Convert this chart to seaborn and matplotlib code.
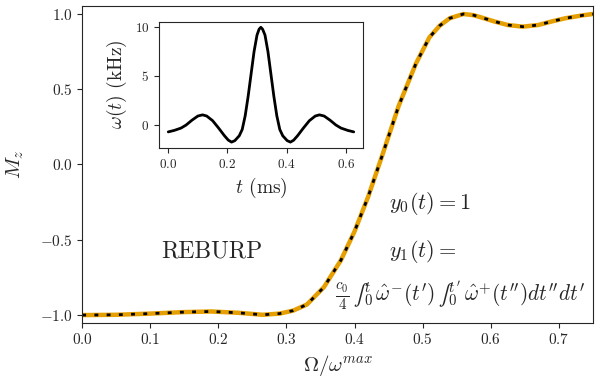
import numpy as np
import pandas as pd
import matplotlib.pyplot as plt
import seaborn as sns

# Main curve: longitudinal magnetisation vs normalised offset
omega_ratio = [0.00, 0.05, 0.10, 0.15, 0.19, 0.23, 0.265, 0.29, 0.31, 0.33,
               0.355, 0.38, 0.40, 0.42, 0.44, 0.465, 0.49, 0.51, 0.525, 0.54,
               0.56, 0.575, 0.59, 0.605, 0.625, 0.647, 0.67, 0.69, 0.71, 0.735, 0.75]
mz = [-1.000, -0.998, -0.990, -0.980, -0.976, -0.985, -0.998, -0.990, -0.970, -0.930,
      -0.815, -0.636, -0.445, -0.215, 0.050, 0.390, 0.667, 0.843, 0.920, 0.970,
      0.998, 0.990, 0.970, 0.949, 0.925, 0.914, 0.925, 0.949, 0.970, 0.989, 0.998]
mz_ticks = [-1.0, -0.5, 0.0, 0.5, 1.0]

# Inset: REBURP pulse shape
t_ms = [0.000, 0.020, 0.043, 0.060, 0.080, 0.100, 0.116, 0.130, 0.150, 0.170,
        0.190, 0.203, 0.214, 0.225, 0.240, 0.250, 0.260, 0.270, 0.280, 0.290,
        0.300, 0.307, 0.313, 0.319, 0.327, 0.337, 0.347, 0.357, 0.367, 0.377,
        0.387, 0.402, 0.413, 0.424, 0.437, 0.457, 0.477, 0.497, 0.511, 0.527,
        0.547, 0.567, 0.584, 0.607, 0.627]
omega_khz = [-0.75, -0.60, -0.36, -0.05, 0.45, 0.88, 1.00, 0.88, 0.40, -0.35,
             -1.15, -1.60, -1.80, -1.65, -1.15, -0.50, 0.90, 2.90, 5.20, 7.50,
             9.20, 9.80, 10.00, 9.80, 9.20, 7.50, 5.20, 2.90, 0.90, -0.50,
             -1.15, -1.65, -1.80, -1.60, -1.15, -0.35, 0.40, 0.88, 1.00, 0.88,
             0.45, -0.05, -0.36, -0.60, -0.75]

sns.set_style("ticks")
plt.rcParams['font.family'] = 'serif'
plt.rcParams['font.serif'] = ['cmr10']
plt.rcParams['mathtext.fontset'] = 'cm'
plt.rcParams['axes.formatter.use_mathtext'] = True

main_df = pd.DataFrame({'ratio': omega_ratio, 'mz': mz})
pulse_df = pd.DataFrame({'t': t_ms, 'w': omega_khz})

fig = plt.figure(figsize=(6, 3.85), dpi=100)
ax = fig.add_axes([0.137, 0.162, 0.851, 0.822])

sns.lineplot(x='ratio', y='mz', data=main_df, ax=ax, color='#E69F00', lw=3.2)
sns.lineplot(x='ratio', y='mz', data=main_df, ax=ax, color='black', lw=2,
             linestyle=(0, (1.4, 3.0)))
ax.set_xlim(0, 0.75)
ax.set_ylim(-1.05, 1.05)
ax.set_yticks(mz_ticks)
ax.set_xlabel(r'$\Omega/\omega^{max}$', fontsize=15)
ax.set_ylabel(r'$M_z$', fontsize=15, labelpad=10)
ax.tick_params(labelsize=11)

ax.text(0.19, -0.58, 'REBURP', fontsize=17, ha='center', va='center')
ax.text(0.45, -0.26, r'$y_0(t) = 1$', fontsize=16, ha='left', va='center')
ax.text(0.45, -0.58, r'$y_1(t) =$', fontsize=16, ha='left', va='center')
ax.text(0.371, -0.87,
        '$\\frac{c_0}{4}\\,\u222b_0^t\\,\\hat{\\omega}^{-}(t^\\prime)\\,\u222b_0^{t^\\prime}\\,'
        '\\hat{\\omega}^{+}(t^{\\prime\\prime})dt^{\\prime\\prime}dt^\\prime$',
        fontsize=15.3, ha='left', va='center')

ins = fig.add_axes([0.265, 0.616, 0.340, 0.328])
sns.lineplot(x='t', y='w', data=pulse_df, ax=ins, color='black', lw=2)
ins.set_xticks([0.0, 0.2, 0.4, 0.6])
ins.set_yticks([0, 5, 10])
ins.set_xlabel(r'$t$ (ms)', fontsize=14)
ins.set_ylabel(r'$\omega(t)$ (kHz)', fontsize=14)
ins.tick_params(labelsize=9.5)

fig.savefig('out.png', dpi=100)
